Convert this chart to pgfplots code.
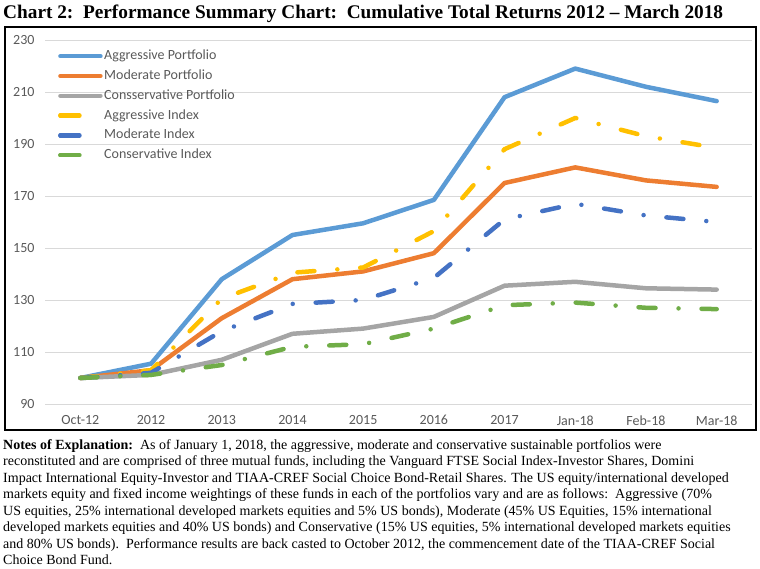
\documentclass[border=0pt]{standalone}
\usepackage{pgfplots}
\pgfplotsset{compat=1.18}
\usepackage{fontspec}
\setmainfont{Liberation Serif}
\newfontfamily\calibri{Carlito}
\definecolor{aggP}{HTML}{5B9BD5}
\definecolor{modP}{HTML}{ED7D31}
\definecolor{conP}{HTML}{A5A5A5}
\definecolor{aggI}{HTML}{FFC000}
\definecolor{modI}{HTML}{4472C4}
\definecolor{conI}{HTML}{70AD47}
\definecolor{txt}{HTML}{595959}
\definecolor{gridc}{HTML}{D9D9D9}
\pgfplotsset{
  port/.style={line width=4.5pt, line cap=round, line join=round,
    legend image code/.code={\draw[##1] (0pt,0pt) -- (40pt,0pt);}},
  idx/.style={line width=4.5pt, line cap=round, line join=round,
    dash pattern=on 17pt off 23pt on 0pt off 23pt,
    legend image code/.code={\draw[##1, solid] (0pt,0pt) -- (19pt,0pt); \path (0pt,0pt) -- (40pt,0pt);}},
}
\begin{document}
\begin{tikzpicture}[x=1pt,y=1pt]
\useasboundingbox (0,0) rectangle (760,568);
\draw[line width=1.3pt] (5,138) rectangle (756,541);
\node[anchor=base west, inner sep=0pt] at (3,549) {\fontsize{19.3}{21}\selectfont\bfseries Chart 2:\ \ Performance Summary Chart:\ \ Cumulative Total Returns 2012 -- March 2018};
\begin{axis}[at={(45pt,164pt)}, anchor=south west, scale only axis,
  width=707pt, height=364pt,
  xmin=-0.5, xmax=9.5, ymin=90, ymax=230,
  xtick={0,...,9},
  xticklabels={Oct-12,2012,2013,2014,2015,2016,2017,Jan-18,Feb-18,Mar-18},
  ytick={90,110,...,230},
  ymajorgrids, grid style={gridc, line width=0.8pt},
  axis line style={draw=none}, major tick length=0pt,
  tick label style={font=\calibri\fontsize{14}{16}\selectfont, text=txt},
  /pgf/number format/assume math mode=true,
  xticklabel style={yshift=-8pt},
  yticklabel style={xshift=-7pt},
  clip=false,
  legend style={at={(rel axis cs:0,1)}, anchor=north west, xshift=13pt, yshift=-8pt,
    draw=none, fill=none, inner sep=0pt, row sep=3.8pt, column sep=0pt,
    font=\calibri\fontsize{14}{16}\selectfont, text=txt,
    nodes={inner sep=1.5pt, text height=10pt, text depth=3pt},
    cells={anchor=west}},
]
\addplot[port, aggP] coordinates {(0,100) (1,105.5) (2,138) (3,155) (4,159.5) (5,168.5) (6,208) (7,219) (8,212) (9,206.5)};
\addlegendentry{Aggressive Portfolio}
\addplot[port, modP] coordinates {(0,100) (1,103) (2,123) (3,138) (4,141) (5,148) (6,175) (7,181) (8,176) (9,173.5)};
\addlegendentry{Moderate Portfolio}
\addplot[port, conP] coordinates {(0,100) (1,101.2) (2,107) (3,117) (4,119) (5,123.5) (6,135.5) (7,137) (8,134.5) (9,134)};
\addlegendentry{Consservative Portfolio}
\addplot[idx, aggI] coordinates {(0,100) (1,103) (2,130.5) (3,140.5) (4,142.5) (5,156.5) (6,188) (7,200) (8,193) (9,188.5)};
\addlegendentry{Aggressive Index}
\addplot[idx, modI] coordinates {(0,100) (1,102) (2,118) (3,128.5) (4,130) (5,138.5) (6,161) (7,167) (8,162.5) (9,160)};
\addlegendentry{Moderate Index}
\addplot[idx, conI] coordinates {(0,100) (1,101.2) (2,105) (3,112) (4,113) (5,119) (6,128) (7,129) (8,127) (9,126.5)};
\addlegendentry{Conservative Index}
\end{axis}
\node[anchor=north west, inner sep=0pt, align=left, font=\fontsize{14}{16.5}\selectfont] at (3,129) {%
\textbf{Notes of Explanation:}\ \ As of January 1, 2018, the aggressive, moderate and conservative sustainable portfolios were\\
reconstituted and are comprised of three mutual funds, including the Vanguard FTSE Social Index-Investor Shares, Domini\\
Impact International Equity-Investor and TIAA-CREF Social Choice Bond-Retail Shares. The US equity/international developed\\
markets equity and fixed income weightings of these funds in each of the portfolios vary and are as follows:\ \ Aggressive (70\%\\
US equities, 25\% international developed markets equities and 5\% US bonds), Moderate (45\% US Equities, 15\% international\\
developed markets equities and 40\% US bonds) and Conservative (15\% US equities, 5\% international developed markets equities\\
and 80\% US bonds).\ \ Performance results are back casted to October 2012, the commencement date of the TIAA-CREF Social\\
Choice Bond Fund.};
\end{tikzpicture}
\end{document}
